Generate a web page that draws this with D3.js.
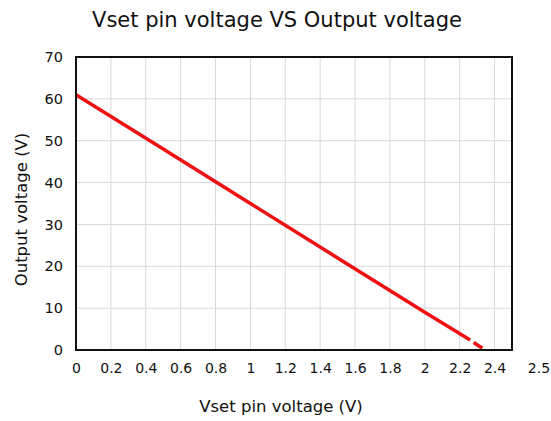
<!DOCTYPE html>
<html>
<head>
<meta charset="utf-8">
<script src="https://cdn.jsdelivr.net/npm/d3@7"></script>
<style>
  html, body { margin: 0; padding: 0; background: #fff; }
  svg text { font-family: "DejaVu Sans", sans-serif; fill: #111; }
</style>
</head>
<body>
<div id="chart"></div>
<script>
// values
const vsetSolid = [0, 0.5, 1, 1.5, 2, 2.26];
const voutSolid = [61, 48, 35, 22, 9, 2.4];
const vsetTail = [2.28, 2.33];
const voutTail = [1.8, 0.4];

const xTicks = [0, 0.2, 0.4, 0.6, 0.8, 1, 1.2, 1.4, 1.6, 1.8, 2, 2.2, 2.4];
const xTickLabels = ['0', '0.2', '0.4', '0.6', '0.8', '1', '1.2', '1.4', '1.6', '1.8', '2', '2.2', '2.4'];
const yTicks = [0, 10, 20, 30, 40, 50, 60, 70];

const width = 551, height = 421;
const margin = { top: 57, right: 39, bottom: 71, left: 76 };

const svg = d3.select('#chart').append('svg')
  .attr('width', width)
  .attr('height', height);

const x = d3.scaleLinear().domain([0, 2.5]).range([margin.left, width - margin.right]);
const y = d3.scaleLinear().domain([0, 70]).range([height - margin.bottom, margin.top]);

// Gridlines
const grid = svg.append('g').attr('class', 'grid');
grid.selectAll('line.vx')
  .data(xTicks.slice(1))
  .join('line')
  .attr('x1', d => x(d)).attr('x2', d => x(d))
  .attr('y1', y(0)).attr('y2', y(70))
  .attr('stroke', '#d9d9d9').attr('stroke-width', 1);
grid.selectAll('line.hy')
  .data(yTicks.slice(1))
  .join('line')
  .attr('x1', x(0)).attr('x2', x(2.5))
  .attr('y1', d => y(d)).attr('y2', d => y(d))
  .attr('stroke', '#d9d9d9').attr('stroke-width', 1);

// Line
const line = d3.line().x(d => x(d[0])).y(d => y(d[1]));
svg.append('path')
  .datum(d3.zip(vsetSolid, voutSolid))
  .attr('d', line)
  .attr('fill', 'none')
  .attr('stroke', '#ee1111')
  .attr('stroke-width', 3.5);
svg.append('path')
  .datum(d3.zip(vsetTail, voutTail))
  .attr('d', line)
  .attr('fill', 'none')
  .attr('stroke', '#ee1111')
  .attr('stroke-width', 3.5);

// Plot border
svg.append('rect')
  .attr('x', x(0)).attr('y', y(70))
  .attr('width', x(2.5) - x(0)).attr('height', y(0) - y(70))
  .attr('fill', 'none').attr('stroke', '#111').attr('stroke-width', 2);

// Axes (labels only)
const xAxis = d3.axisBottom(x)
  .tickValues(xTicks)
  .tickFormat((d, i) => xTickLabels[i])
  .tickSize(0).tickPadding(13);
const gx = svg.append('g')
  .attr('transform', `translate(0,${y(0)})`)
  .call(xAxis);
gx.select('.domain').remove();
gx.selectAll('text').style('font-size', '14px');
// the last label stands apart, past the plot's edge
gx.append('text')
  .attr('x', x(2.5) + 27)
  .attr('y', 13)
  .attr('dy', '0.71em')
  .attr('text-anchor', 'middle')
  .style('font-size', '14px')
  .attr('fill', '#111')
  .text('2.5');

const yAxis = d3.axisLeft(y).tickValues(yTicks).tickSize(0).tickPadding(13);
const gy = svg.append('g')
  .attr('transform', `translate(${x(0)},0)`)
  .call(yAxis);
gy.select('.domain').remove();
gy.selectAll('text').style('font-size', '14.5px');

// Titles
svg.append('text')
  .attr('x', 277).attr('y', 27)
  .attr('text-anchor', 'middle')
  .style('font-size', '21px')
  .text('Vset pin voltage VS Output voltage');

svg.append('text')
  .attr('x', 281).attr('y', 412)
  .attr('text-anchor', 'middle')
  .style('font-size', '16.5px')
  .text('Vset pin voltage (V)');

svg.append('text')
  .attr('transform', `translate(27,${(y(0) + y(70)) / 2 + 6}) rotate(-90)`)
  .attr('text-anchor', 'middle')
  .style('font-size', '16.5px')
  .text('Output voltage (V)');
</script>
</body>
</html>
